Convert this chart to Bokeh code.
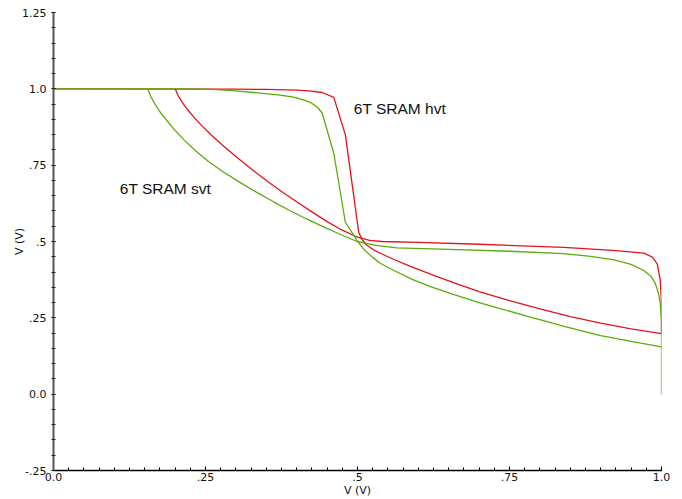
from bokeh.plotting import figure
from bokeh.models import FixedTicker, Label, Range1d
from bokeh.embed import file_html
from bokeh.resources import INLINE
import numpy as np

# ---- data ----
hvt_a_x = [0.0, 0.30, 0.35, 0.40, 0.42, 0.442, 0.461, 0.480, 0.502, 0.508, 0.516, 0.527, 0.540,
           0.560, 0.585, 0.620, 0.660, 0.700, 0.750, 0.800, 0.850, 0.900, 0.950, 1.0]
hvt_a_y = [1.0, 0.999, 0.998, 0.996, 0.993, 0.988, 0.972, 0.850, 0.530, 0.505, 0.487, 0.472, 0.459,
           0.441, 0.420, 0.393, 0.364, 0.336, 0.306, 0.279, 0.254, 0.233, 0.214, 0.198]

hvt_b_x = [0.200, 0.205, 0.212, 0.220, 0.232, 0.245, 0.260, 0.280, 0.300, 0.325, 0.350, 0.375,
           0.400, 0.425, 0.450, 0.475, 0.500, 0.520, 0.540, 0.600, 0.700, 0.839, 0.920, 0.971,
           0.985, 0.993, 0.998, 1.0, 1.0]
hvt_b_y = [1.0, 0.978, 0.955, 0.933, 0.905, 0.877, 0.848, 0.812, 0.778, 0.738, 0.700, 0.664,
           0.630, 0.597, 0.565, 0.537, 0.514, 0.504, 0.500, 0.497, 0.491, 0.481, 0.471, 0.462,
           0.449, 0.427, 0.373, 0.296, 0.2]

svt_a_x = [0.0, 0.22, 0.26, 0.30, 0.34, 0.37, 0.395, 0.41, 0.423, 0.435, 0.442, 0.461, 0.480,
           0.4995, 0.51, 0.525, 0.538, 0.56, 0.59, 0.62, 0.66, 0.70, 0.73, 0.78, 0.84, 0.90, 0.95, 1.0]
svt_a_y = [1.0, 1.0, 0.998, 0.993, 0.986, 0.980, 0.973, 0.965, 0.955, 0.938, 0.920, 0.789, 0.563,
           0.503, 0.475, 0.448, 0.428, 0.405, 0.376, 0.352, 0.325, 0.300, 0.283, 0.255, 0.222, 0.192, 0.173, 0.155]

svt_b_x = [0.155, 0.160, 0.167, 0.175, 0.186, 0.198, 0.215, 0.235, 0.255, 0.280, 0.308, 0.335,
           0.362, 0.390, 0.417, 0.445, 0.472, 0.4995, 0.530, 0.565, 0.650, 0.750, 0.839, 0.880,
           0.922, 0.950, 0.971, 0.983, 0.990, 0.995, 0.998, 1.0, 1.0]
svt_b_y = [1.0, 0.975, 0.950, 0.925, 0.897, 0.868, 0.832, 0.795, 0.762, 0.727, 0.692, 0.660,
           0.630, 0.600, 0.573, 0.547, 0.523, 0.500, 0.487, 0.479, 0.474, 0.468, 0.460, 0.452,
           0.440, 0.425, 0.405, 0.385, 0.362, 0.330, 0.297, 0.242, 0.0]

x_ticks = [0.0, 0.25, 0.5, 0.75, 1.0]
x_tick_labels = ["0.0", ".25", ".5", ".75", "1.0"]
y_ticks = [-0.25, 0.0, 0.25, 0.5, 0.75, 1.0, 1.25]
y_tick_labels = ["-.25", "0.0", ".25", ".5", ".75", "1.0", "1.25"]

label_hvt = "6T SRAM hvt"
label_svt = "6T SRAM svt"
axis_title = "V (V)"

RED = "#e3131b"
GREEN = "#5aab0c"

p = figure(width=682, height=499, output_backend="svg", toolbar_location=None,
           x_range=Range1d(0.0, 1.0), y_range=Range1d(-0.25, 1.25),
           min_border_left=53, min_border_right=21, min_border_top=12, min_border_bottom=28)
p.outline_line_color = None
p.xgrid.visible = False
p.ygrid.visible = False
p.background_fill_color = "white"
p.border_fill_color = "white"

for xs, ys, c in [(hvt_b_x, hvt_b_y, RED), (hvt_a_x, hvt_a_y, RED),
                  (svt_b_x, svt_b_y, GREEN), (svt_a_x, svt_a_y, GREEN)]:
    p.line(xs, ys, line_color=c, line_width=1.3)

p.add_layout(Label(x=0.494, y=0.935, text=label_hvt, text_font="Liberation Sans",
                   text_font_size="15.5px", text_color="#111111", text_baseline="middle"))
p.add_layout(Label(x=0.109, y=0.673, text=label_svt, text_font="Liberation Sans",
                   text_font_size="15.5px", text_color="#111111", text_baseline="middle"))

xminor = [round(v, 4) for v in np.arange(0.0, 1.0001, 0.025)]
yminor = [round(v, 4) for v in np.arange(-0.25, 1.2501, 0.05)]
p.xaxis.ticker = FixedTicker(ticks=x_ticks, minor_ticks=xminor)
p.yaxis.ticker = FixedTicker(ticks=y_ticks, minor_ticks=yminor)
p.xaxis.major_label_overrides = {t: l for t, l in zip(x_ticks, x_tick_labels)}
p.yaxis.major_label_overrides = {t: l for t, l in zip(y_ticks, y_tick_labels)}

for ax in (p.xaxis[0], p.yaxis[0]):
    ax.axis_label = axis_title
    ax.axis_label_text_font = "DejaVu Sans"
    ax.axis_label_text_font_size = "11px"
    ax.axis_label_text_font_style = "normal"
    ax.axis_label_text_color = "#111111"
    ax.major_label_text_font = "DejaVu Sans"
    ax.major_label_text_font_size = "11px"
    ax.major_label_text_color = "#111111"

xa = p.xaxis[0]
xa.axis_line_color = "#000000"
xa.axis_line_width = 1.5
xa.major_tick_in = 4
xa.major_tick_out = 0
xa.minor_tick_in = 3
xa.minor_tick_out = 0
xa.major_tick_line_color = "#000000"
xa.minor_tick_line_color = "#000000"
xa.major_label_standoff = 2
xa.axis_label_standoff = 0

ya = p.yaxis[0]
ya.axis_line_color = "#555555"
ya.axis_line_width = 2
ya.major_tick_in = 2
ya.major_tick_out = 2
ya.minor_tick_in = 2
ya.minor_tick_out = 2
ya.major_tick_line_color = "#222222"
ya.minor_tick_line_color = "#222222"
ya.major_label_standoff = 5
ya.axis_label_standoff = -7

open("out.html", "w").write(file_html(p, INLINE))
